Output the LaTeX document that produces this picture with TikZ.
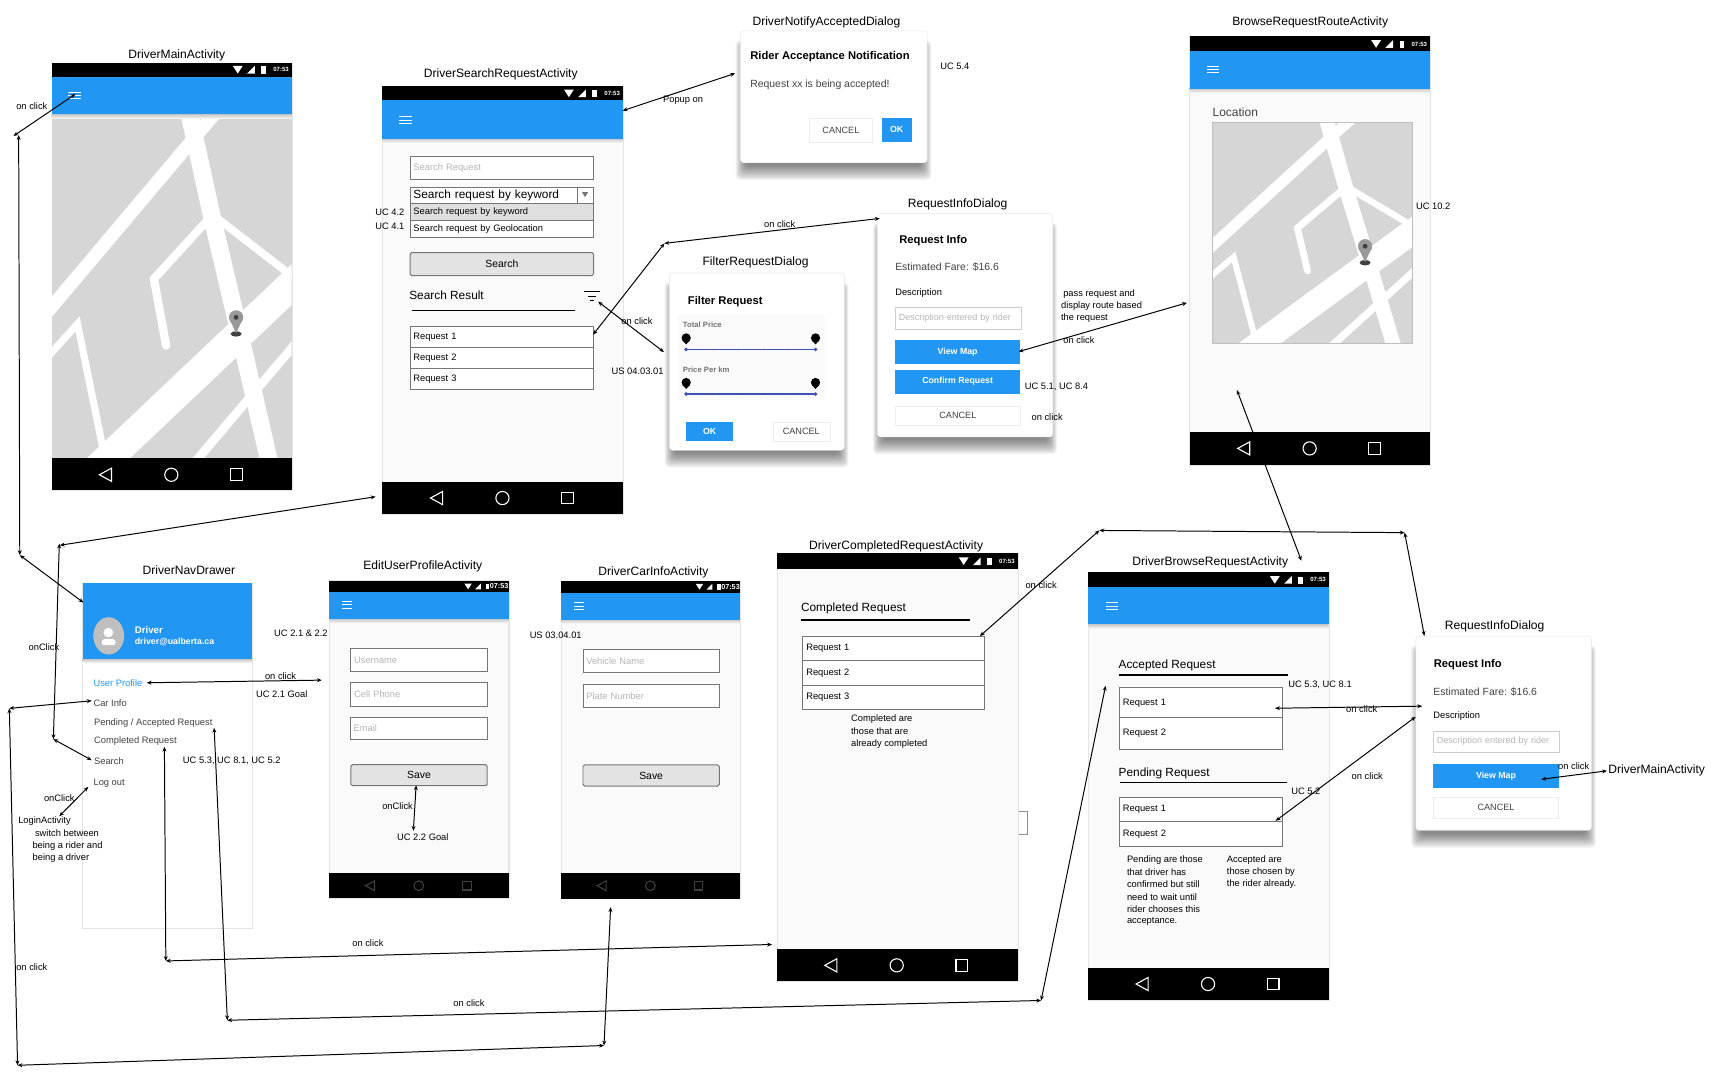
\documentclass[tikz,border=0pt]{standalone}
\usepackage{fontspec}
\setmainfont{Liberation Sans}
\usetikzlibrary{shapes.geometric, arrows.meta, positioning}

\definecolor{appblue}{HTML}{2196F3}
\definecolor{body}{HTML}{FAFAFA}
\definecolor{edge}{HTML}{E4E4E4}
\definecolor{mapgray}{HTML}{D6D6D6}
\definecolor{fieldline}{HTML}{757575}
\definecolor{hint}{HTML}{B5B5B5}
\definecolor{inktext}{HTML}{424242}
\definecolor{indigo}{HTML}{3F51B5}

\newcommand{\fs}[1]{\fontsize{#1pt}{#1pt}\selectfont}

% style, name, left, top, right, bottom, text
\newcommand{\uibox}[7]{%
  \pgfmathsetmacro{\boxw}{#5-#3}\pgfmathsetmacro{\boxh}{#6-#4}%
  \node (#2) [#1, anchor=north west, minimum width=\boxw pt, minimum height=\boxh pt] at (#3,#4) {#7};}

% name, left, top, right, bottom, bottom of status bar, top of nav bar
\newcommand{\phonescreen}[7]{%
  \uibox{screen}{#1}{#2}{#3}{#4}{#5}{}
  \uibox{bar}{#1Status}{#2}{#3}{#4}{#6}{}
  \uibox{bar}{#1Nav}{#2}{#7}{#4}{#5}{}}

% name, left, top, right, bottom
\newcommand{\appbar}[5]{%
  \shade [top color=black!22, bottom color=body] (#2,#5) rectangle (#4,#5+4);
  \uibox{blue}{#1}{#2}{#3}{#4}{#5}{}}

% left, mid y, width
\newcommand{\burger}[3]{%
  \foreach \dy in {-3,0,3} {\draw [white, line width=0.9pt] (#1,#2+\dy) -- ++(#3,0);}}

% name, right edge, mid y, scale, time offset, time size
\newcommand{\statusicons}[6]{%
  \begin{scope}[shift={(#2,#3)}, scale=#4]
    \fill [white] (-53.5,-3.5) -- (-44.5,-3.5) -- (-49,3.5) -- cycle;
    \fill [white] (-40.5,3.5) -- (-33.5,3.5) -- (-33.5,-3.5) -- cycle;
    \fill [white] (-27.5,-3) rectangle (-23.5,3.5);
  \end{scope}
  \node (#1) [inner sep=0, text=white, font=\bfseries\fs{#6}] at (#2-#5,#3) {07:53};}

% mid x, mid y, scale, colour
\newcommand{\navicons}[4]{%
  \begin{scope}[shift={(#1,#2)}, scale=#3, draw=#4, line width=1pt]
    \draw (-54.5,-6) -- (-65.5,0) -- (-54.5,6) -- cycle;
    \draw (0,0) circle [radius=6];
    \draw (54,-5.3) rectangle (64.6,5.3);
  \end{scope}}

% left, top, width, height
\newcommand{\mapview}[4]{%
  \fill [mapgray] (#1,#2) rectangle ++(#3,#4);
  \pgfmathsetmacro{\rw}{#3/218}
  \begin{scope}[shift={(#1,#2)}, x=#3pt, y=-#4pt, white, line join=miter]
    \clip (0,0) rectangle (1,1);
    \draw [line width=16*\rw pt] (.564,-.03) -- (.668,.3) -- (.813,.728) -- (.93,1.08);
    \draw [line width=27*\rw pt] (.13,1.07) -- (1.1,.43);
    \draw [line width=12*\rw pt] (.75,-.06) -- (-.05,.6);
    \draw [line width=7.5*\rw pt, line cap=round] (.66,.3) -- (.425,.479) -- (.476,.673);
    \draw [line width=7*\rw pt] (.685,.3) -- (1,.47);
    \draw [line width=6.5*\rw pt] (-.05,.73) -- (.106,.61) -- (.22,1);
    \draw [line width=8*\rw pt] (.55,1.05) -- (1.05,.64);
  \end{scope}}

% mid x, top y
\newcommand{\mappin}[2]{%
  \fill [black!75] (#1,#2+21.5) ellipse [x radius=5, y radius=2.5];
  \fill [black!40] (#1-6,#2+8) -- (#1+6,#2+8) -- (#1,#2+21) -- cycle;
  \fill [black!40] (#1,#2+6.5) circle [radius=6.5];
  \fill [black!75] (#1,#2+6.5) circle [radius=2.2];}

% name, left, top, right, bottom
\newcommand{\dialogbox}[5]{%
  \foreach \i in {0,...,13} {
    \fill [black, opacity=.045, rounded corners=4pt] (#2+5-\i*.7,#3+14-\i*.4) rectangle (#4-5+\i*.7,#5+3+\i);}
  \uibox{dialog}{#1}{#2}{#3}{#4}{#5}{}}

% slider y
\newcommand{\slider}[1]{%
  \draw [indigo, line width=1pt] (624.8,#1) -- (742.6,#1);
  \foreach \tx in {648.5,672,695.5,719} {\fill [black!70] (\tx,#1) circle [radius=0.6];}
  \foreach \sx in {624.8,742.6} {
    \fill [indigo] (\sx,#1) circle [radius=1.8];
    \fill [black] (\sx,#1-10.5) circle [radius=4.2];
    \fill [black] (\sx-3.5,#1-8.5) -- (\sx+3.5,#1-8.5) -- (\sx,#1-4.6) -- cycle;}}

\begin{document}
\begin{tikzpicture}[x=1pt, y=-1pt]
    % Define styles for the blocks
    \tikzstyle{screen} = [rectangle, inner sep=0, draw=edge, line width=1pt, fill=body]
    \tikzstyle{bar} = [rectangle, inner sep=0, fill=black]
    \tikzstyle{blue} = [rectangle, inner sep=0, fill=appblue]
    \tikzstyle{dialog} = [rectangle, inner sep=0, rounded corners=3pt, draw=edge, fill=white]
    \tikzstyle{field} = [rectangle, inner ysep=0, inner xsep=3pt, text width=\boxw pt - 6pt, draw=fieldline, line width=0.9pt, fill=white, text=black, font=\fs{8.5}]
    \tikzstyle{hintfield} = [field, text=hint]
    \tikzstyle{lightfield} = [field, draw=black!20, text=hint, font=\fs{8.2}]
    \tikzstyle{greyrow} = [field, fill=black!12]
    \tikzstyle{pressbtn} = [rectangle, inner sep=0, rounded corners=1.5pt, draw=fieldline, line width=0.9pt, fill=black!11, font=\fs{9.5}]
    \tikzstyle{bluebtn} = [rectangle, inner sep=0, fill=appblue, text=white, font=\bfseries\fs{8}]
    \tikzstyle{flatbtn} = [rectangle, inner sep=0, draw=black!7, fill=white, text=inktext, font=\fs{8.3}]
    \tikzstyle{title} = [inner sep=0, yshift=-0.8pt, font=\fs{11}]
    \tikzstyle{note} = [inner sep=0, font=\fs{8.5}]
    \tikzstyle{noteleft} = [note, anchor=west]
    \tikzstyle{head} = [inner sep=0, anchor=west, yshift=-1pt, font=\bfseries\fs{10.2}]
    \tikzstyle{section} = [inner sep=0, anchor=west, yshift=-1pt, font=\fs{10.8}]
    \tikzstyle{plain} = [inner sep=0, anchor=west, yshift=-0.8pt, text=inktext, font=\fs{9.5}]
    \tikzstyle{menu} = [inner sep=0, anchor=west, text=inktext, font=\fs{8.5}]
    \tikzstyle{arrow} = [line width=0.9pt, <->, >={Stealth[length=4.4pt, width=3.6pt]}]

    \useasboundingbox (0,0) rectangle (1568,982);

    % DriverMainActivity
    \phonescreen{mainPhone}{47}{57}{265.5}{446}{69.5}{417}
    \mapview{47.5}{104}{218}{313}
    \mappin{215}{282.5}
    \appbar{mainBar}{47}{69.5}{265.5}{104}
    \burger{62}{87}{11.5}
    \statusicons{mainTime}{265.5}{63.5}{1}{9.6}{5.5}
    \navicons{156}{432.3}{1}{white}

    % DriverSearchRequestActivity
    \phonescreen{searchPhone}{348}{78}{567}{468}{91}{439}
    \appbar{searchBar}{348}{91}{567}{126}
    \burger{363.6}{109.5}{11.2}
    \statusicons{searchTime}{567}{85}{1}{9.6}{5.5}
    \navicons{457.5}{453.5}{1}{white}
    \uibox{hintfield}{searchField}{373}{142}{540}{163}{Search Request}
    \uibox{field, font=\fs{10.8}}{searchCombo}{373}{170}{540}{184.5}{Search request by keyword}
    \draw [fieldline, line width=0.9pt] (525.5,170) -- (525.5,184.5);
    \fill [fieldline] (530,175) -- (535.5,175) -- (532.7,179.5) -- cycle;
    \uibox{greyrow}{searchKeyword}{373}{184.5}{540}{200}{Search request by keyword}
    \uibox{field}{searchGeo}{373}{200}{540}{216}{Search request by Geolocation}
    \uibox{pressbtn}{searchBtn}{373}{229.5}{540}{250.5}{Search}
    \node (searchResult) [section, yshift=1pt] at (372.5,268.6) {Search Result};
    \draw [line width=1.1pt] (375.5,283) -- (523.4,283);
    \draw [line width=1pt] (531.6,265.6) -- (546.5,265.6) (535,270) -- (543,270) (537.5,274) -- (540.5,274);
    \uibox{field}{searchReq1}{373}{297}{540}{316}{Request 1}
    \uibox{field}{searchReq2}{373}{316}{540}{335}{Request 2}
    \uibox{field}{searchReq3}{373}{335}{540}{354}{Request 3}

    % DriverNotifyAcceptedDialog
    \dialogbox{notifyDialog}{674}{28}{844}{148}
    \node (notifyHead) [head] at (683,50.7) {Rider Acceptance Notification};
    \node (notifyText) [plain] at (683,76.8) {Request xx is being accepted!};
    \uibox{flatbtn}{notifyCancel}{737}{107}{794}{129.3}{CANCEL}
    \uibox{bluebtn}{notifyOk}{802.6}{107}{830}{129.3}{OK}

    % FilterRequestDialog
    \dialogbox{filterDialog}{609.3}{248.3}{768.6}{409.8}
    \node (filterHead) [head] at (626.2,273.2) {Filter Request};
    \fill [body] (617.2,287.2) rectangle (750.8,364.3);
    \node (filterTotal) [menu, text=black!55, font=\bfseries\fs{7}] at (621.7,295.5) {Total Price};
    \slider{318.2}
    \node (filterKm) [menu, text=black!55, font=\bfseries\fs{7}] at (621.7,336.5) {Price Per km};
    \slider{358.8}
    \uibox{bluebtn}{filterOk}{624.5}{384}{667.6}{401.3}{OK}
    \uibox{flatbtn}{filterCancel}{703.5}{384.5}{755.4}{401.3}{CANCEL}

    % RequestInfoDialog
    \dialogbox{infoDialog}{798.8}{194.3}{958.5}{397.7}
    \node (infoHead) [head] at (818.7,218.3) {Request Info};
    \node (infoFare) [plain] at (815,242.3) {Estimated Fare: \$16.6};
    \node (infoDesc) [menu, text=black, font=\fs{8.5}] at (815,266.5) {Description};
    \uibox{lightfield}{infoField}{815}{279.3}{929.5}{299.3}{Description entered by rider}
    \uibox{bluebtn}{infoMap}{815}{309.7}{928.6}{331.5}{View Map}
    \uibox{bluebtn}{infoConfirm}{815}{336.4}{928.6}{358.2}{Confirm Request}
    \uibox{flatbtn}{infoCancel}{815}{369.5}{929}{387.4}{CANCEL}

    % BrowseRequestRouteActivity
    \phonescreen{routePhone}{1083}{33}{1302}{423}{46.5}{393}
    \appbar{routeBar}{1083}{46.5}{1302}{80.5}
    \burger{1099}{63.4}{11.2}
    \statusicons{routeTime}{1302}{40}{1}{9.6}{5.5}
    \navicons{1192.5}{408.3}{1}{white}
    \node (routeLocation) [plain, font=\fs{10.9}] at (1104,101) {Location};
    \mapview{1104}{111}{182}{201.6}
    \draw [black!25] (1104,111) rectangle (1286,312.6);
    \mappin{1243}{217.7}

    % DriverNavDrawer
    \uibox{screen, fill=white}{drawerBody}{75}{531}{229.3}{845}{}
    \shade [top color=black!22, bottom color=white] (75,600) rectangle (229.3,604);
    \uibox{blue}{drawerHead}{75}{531}{229.3}{600}{}
    \fill [black!25] (99,579) ellipse [x radius=14, y radius=17];
    \fill [white] (98.7,576) circle [radius=4.4];
    \fill [white, rounded corners=2.5pt] (92.6,582) rectangle (105.3,587.5);
    \node (drawerName) [inner sep=0, anchor=west, text=white, font=\bfseries\fs{8.8}] at (122.6,574) {Driver};
    \node (drawerMail) [inner sep=0, anchor=west, text=white, font=\bfseries\fs{8}] at (122.6,584.4) {driver@ualberta.ca};
    \node (menuProfile) [menu, text=appblue] at (85,621.7) {User Profile};
    \node (menuCar) [menu] at (85,640) {Car Info};
    \node (menuPending) [menu] at (85.5,658) {Pending / Accepted Request};
    \node (menuCompleted) [menu] at (85.5,674.6) {Completed Request};
    \node (menuSearch) [menu] at (85.5,692.8) {Search};
    \node (menuLogout) [menu] at (85,712.8) {Log out};

    % EditUserProfileActivity
    \phonescreen{editPhone}{299.6}{528.5}{463}{817.5}{539}{795}
    \appbar{editBar}{299.6}{539}{463}{563.4}
    \burger{311.5}{550.8}{9.2}
    \statusicons{editTime}{463}{534}{0.75}{8.5}{6.6}
    \navicons{381.3}{806.5}{0.74}{black!75}
    \uibox{hintfield}{editName}{319}{590}{443.2}{610.8}{Username}
    \uibox{hintfield}{editPhoneNo}{319}{621.4}{443.2}{642.4}{Cell Phone}
    \uibox{hintfield}{editMail}{318.5}{652.7}{443}{673.3}{Email}
    \uibox{pressbtn}{editSave}{319}{695.8}{443.2}{715}{Save}

    % DriverCarInfoActivity
    \phonescreen{carPhone}{510.6}{529}{673.7}{818}{539.5}{795}
    \appbar{carBar}{510.6}{539.5}{673.7}{564}
    \burger{522.4}{551.8}{9}
    \statusicons{carTime}{673.7}{534.3}{0.75}{8.5}{6.6}
    \navicons{592.2}{806.5}{0.74}{black!75}
    \uibox{hintfield}{carName}{530.4}{590.5}{654.5}{611.9}{Vehicle Name}
    \uibox{hintfield}{carPlate}{530.4}{622.5}{654.5}{643.5}{Plate Number}
    \uibox{pressbtn}{carSave}{530.4}{696}{654.5}{715.3}{Save}

    % DriverCompletedRequestActivity
    \uibox{screen, fill=white, draw=black!45, line width=0.8pt}{completedTab}{925}{738.5}{935}{759}{}
    \phonescreen{donePhone}{707.3}{503.5}{926.5}{893}{518}{864}
    \statusicons{doneTime}{926.5}{511}{1}{9.6}{5.5}
    \navicons{816.5}{879}{1}{white}
    \node (doneHead) [section] at (729.2,553.4) {Completed Request};
    \draw [line width=1.1pt] (729.5,564.6) -- (883.4,564.6);
    \uibox{field}{doneReq1}{730.7}{579.2}{896.1}{601.1}{Request 1}
    \uibox{field}{doneReq2}{730.7}{601.1}{896.1}{623.3}{Request 2}
    \uibox{field}{doneReq3}{730.7}{623.3}{896.1}{645.8}{Request 3}
    \node (doneNote1) [noteleft] at (774.8,654.5) {Completed are};
    \node (doneNote2) [noteleft] at (774.8,665.5) {those that are};
    \node (doneNote3) [noteleft] at (774.8,677.4) {already completed};

    % DriverBrowseRequestActivity
    \phonescreen{browsePhone}{990.7}{520.6}{1209.8}{910.3}{534.6}{881.4}
    \appbar{browseBar}{990.7}{534.6}{1209.8}{568.3}
    \burger{1006.7}{551.8}{11.2}
    \statusicons{browseTime}{1209.8}{528}{1}{9.6}{5.5}
    \navicons{1100}{896}{1}{white}
    \node (acceptedHead) [section] at (1018.4,605.3) {Accepted Request};
    \draw [line width=1.1pt] (1019,614.7) -- (1172.5,614.7);
    \uibox{field}{acceptedReq1}{1019}{625.8}{1167}{653.3}{Request 1}
    \uibox{field}{acceptedReq2}{1019}{653.3}{1167}{681.6}{Request 2}
    \node (pendingHead) [section] at (1018.4,703.5) {Pending Request};
    \draw [line width=1.1pt] (1020,712.5) -- (1171.5,712.5);
    \uibox{field}{pendingReq1}{1019}{725.5}{1167}{748}{Request 1}
    \uibox{field}{pendingReq2}{1019}{748}{1167}{770}{Request 2}
    \foreach \nm/\ly/\txt in {pendNote1/783/Pending are those, pendNote2/794/that driver has, pendNote3/805/confirmed but still, pendNote4/817/need to wait until, pendNote5/828/rider chooses this, pendNote6/839/acceptance.} {
        \node (\nm) [noteleft] at (1026,\ly) {\txt};
    }
    \foreach \nm/\ly/\txt in {accNote1/783/Accepted are, accNote2/794/those chosen by, accNote3/805/the rider already.} {
        \node (\nm) [noteleft] at (1117,\ly) {\txt};
    }

    % second RequestInfoDialog
    \dialogbox{infoTwoDialog}{1289}{579}{1449}{756}
    \node (infoTwoHead) [head] at (1305.4,604.5) {Request Info};
    \node (infoTwoFare) [plain] at (1305,629) {Estimated Fare: \$16.6};
    \node (infoTwoDesc) [menu, text=black, font=\fs{8.5}] at (1305,652) {Description};
    \uibox{lightfield}{infoTwoField}{1305}{665.2}{1420}{684.5}{Description entered by rider}
    \uibox{bluebtn}{infoTwoMap}{1305}{695.2}{1419}{717.4}{View Map}
    \uibox{flatbtn}{infoTwoCancel}{1305}{725.5}{1419}{744.4}{CANCEL}

    % Titles of the screens
    \foreach \nm/\lx/\ly/\txt in {tMain/161/50/DriverMainActivity, tSearch/456/66.5/DriverSearchRequestActivity, tNotify/752.5/20/DriverNotifyAcceptedDialog, tRoute/1193/20/BrowseRequestRouteActivity, tInfo/872/185/RequestInfoDialog, tFilter/688/238.5/FilterRequestDialog, tDrawer/172/518/DriverNavDrawer, tEdit/385/514.5/EditUserProfileActivity, tCar/595/520/DriverCarInfoActivity, tDone/816/496.5/DriverCompletedRequestActivity, tBrowse/1102/511/DriverBrowseRequestActivity, tInfoTwo/1361/570/RequestInfoDialog, tBack/1508.5/701/DriverMainActivity} {
        \node (\nm) [title] at (\lx,\ly) {\txt};
    }

    % Free ends of the connectors
    \foreach \nm/\lx/\ly in {burgerTip/68.8/85.6, leftTop/12.3/123.8, leftTopB/17/123, leftMid/18/505.5, drawerIn/75.9/548.6, splitTop/54.5/496.5, splitTopB/54/495, searchIn/342/452.3, splitLow/48.6/673, searchItem/83.5/692.2, logoutTip/80.4/716.5, loginTip/54/743.2, profileTip/133.6/621.7, profileOut/293/619.3, carTip/83.5/638.1, carTurn/8.5/645, carLow/16/970, carRight/550/952, carUp/556/826, pendTip/195/662.7, pendLow/207/929, pendRight/948/911, pendUp/1006.7/624.5, doneTip/149.7/680, doneLow/151/875, doneRight/703/860, listTip/892.3/579.2, listTurn/1001/483, listRight/1279/485, infoTwoTip/1297/579, popTip/567/100.8, popEnd/669.4/66.8, reqTip/540/304.8, reqTurn/605/221.6, reqEnd/801/198.9, filtTip/544.6/274.7, filtEnd/604.6/320.6, mapTip/927.5/320.2, mapEnd/1080.8/275.7, routeTip/1126.3/355.2, routeEnd/1185/510.6, accTip/1161/644.9, accEnd/1295/643, pendReqTip/1161.6/747.4, pendReqEnd/1289/652.7, backTip/1403.5/709.6, backEnd/1463.2/701.9, saveTip/378.9/715, saveEnd/376.4/756.5} {
        \coordinate (\nm) at (\lx,\ly);
    }

    % Draw arrows between the screens
    \draw [arrow] (burgerTip) -- (leftTop);
    \draw [arrow] (leftTopB) -- (leftMid);
    \draw [arrow] (leftMid) -- (drawerIn);
    \draw [arrow] (splitTop) -- (searchIn);
    \draw [arrow] (splitTopB) -- (splitLow);
    \draw [arrow] (splitLow) -- (searchItem);
    \draw [arrow] (logoutTip) -- (loginTip);
    \draw [arrow] (profileTip) -- (profileOut);
    \draw [arrow] (carTip) -- (carTurn);
    \draw [arrow] (carTurn) -- (carLow);
    \draw [arrow] (carLow) -- (carRight);
    \draw [arrow] (carRight) -- (carUp);
    \draw [arrow] (pendTip) -- (pendLow);
    \draw [arrow] (pendLow) -- (pendRight);
    \draw [arrow] (pendRight) -- (pendUp);
    \draw [arrow] (doneTip) -- (doneLow);
    \draw [arrow] (doneLow) -- (doneRight);
    \draw [arrow] (listTip) -- (listTurn);
    \draw [arrow] (listTurn) -- (listRight);
    \draw [arrow] (listRight) -- (infoTwoTip);
    \draw [arrow] (popTip) -- (popEnd);
    \draw [arrow] (reqTip) -- (reqTurn);
    \draw [arrow] (reqTurn) -- (reqEnd);
    \draw [arrow] (filtTip) -- (filtEnd);
    \draw [arrow] (mapTip) -- (mapEnd);
    \draw [arrow] (routeTip) -- (routeEnd);
    \draw [arrow] (accTip) -- (accEnd);
    \draw [arrow] (pendReqTip) -- (pendReqEnd);
    \draw [arrow] (backTip) -- (backEnd);
    \draw [arrow] (saveTip) -- (saveEnd);

    % Connector labels and use case notes
    \foreach \nm/\lx/\ly/\txt in {n1/29/97/on click, n2/622/91.5/Popup on, n3/580/292/on click, n4/869.5/60.7/UC 5.4, n5/580.5/338/US 04.03.01, n6/355/193/UC 4.2, n7/355/206/UC 4.1, n8/710/204/on click, n9/982.5/309.4/on click, n10/962/352/{UC 5.1, UC 8.4}, n11/953.5/379.5/on click, n12/1305/188/UC 10.2, n13/40/589/onClick, n14/255.5/615.5/on click, n15/274/577/UC 2.1 \& 2.2, n16/256.5/632/UC 2.1 Goal, n17/211/693/{UC 5.3, UC 8.1, UC 5.2}, n18/54/726.5/onClick, n19/40.5/747.5/LoginActivity, n20/61/758.5/switch between, n21/61.5/770.5/being a rider and, n22/55.5/781.5/being a driver, n23/362/734.5/onClick, n24/385/762/UC 2.2 Goal, n25/506/578.5/US 03.04.01, n26/335/858.5/on click, n27/29/880.5/on click, n28/427/913/on click, n29/948/533/on click, n30/1202/624/{UC 5.3, UC 8.1}, n31/1240/646/on click, n32/1245/706.5/on click, n33/1189/720.5/UC 5.2, n34/1433/697.5/on click} {
        \node (\nm) [note] at (\lx,\ly) {\txt};
    }
    \node (passOne) [noteleft] at (968,267.8) {pass request and};
    \node (passTwo) [noteleft] at (966,278.7) {display route based};
    \node (passThree) [noteleft] at (966,289.6) {the request};
\end{tikzpicture}
\end{document}
